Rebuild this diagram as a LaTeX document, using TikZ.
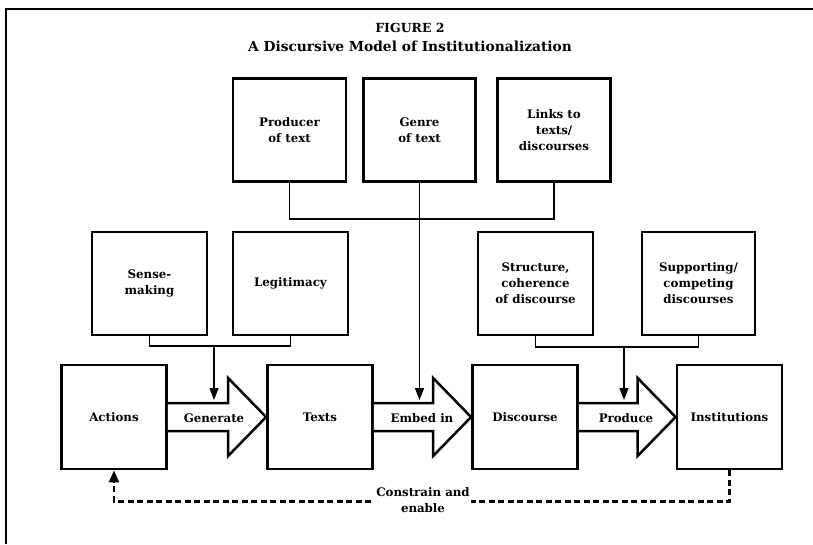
\documentclass[tikz,border=0pt]{standalone}
\usepackage{fontspec}
\setmainfont{DejaVu Serif}
\usetikzlibrary{arrows.meta,calc}
\newcommand\boxlabel{\fontsize{11.8}{16}\selectfont\bfseries}
\begin{document}
\begin{tikzpicture}[x=1pt,y=-1pt,
  box/.style={draw, line width=2.8pt, minimum width=#1, minimum height=103pt,
    inner sep=2pt, align=center, font=\boxlabel},
  box/.default=105pt,
  link/.style={line width=1.4pt},
  drop/.style={line width=1.4pt, -{Triangle[length=12pt,width=9pt]}},
  hollow/.style={draw, fill=white, line width=2.5pt, line join=miter},
  feedback/.style={line width=2.3pt, dash pattern=on 6pt off 3.5pt,
    -{Triangle[length=12pt,width=10pt]}},
  flowlabel/.style={font=\boxlabel, inner sep=1pt}]

\useasboundingbox (0,0) rectangle (813,544);
\fill[white] (0,0) rectangle (813,544);

% partial frame
\draw[line width=1.6pt] (6,544) -- (6,9) -- (813,9);

% heading
\node (fig) at (410,28) {\fontsize{12.5}{15}\selectfont\bfseries FIGURE 2};
\node (title) at (410,46) {\fontsize{13.8}{16}\selectfont\bfseries A Discursive Model of Institutionalization};

% upper row of influences
\node[box=113pt] (prod)  at (289.5,130) {Producer\\of text};
\node[box=112pt] (genre) at (419.5,130) {Genre\\of text};
\node[box=113pt] (links) at (554,130) {Links to\\texts/\\discourses};

% middle row of influences
\node[box=115pt] (sense)  at (149.5,283.5) {Sense-\\making};
\node[box=115pt] (legit)  at (290.5,283.5) {Legitimacy};
\node[box=115pt] (struct) at (535.5,283.5) {Structure,\\coherence\\of discourse};
\node[box=113pt] (supp)   at (698.5,283.5) {Supporting/\\competing\\discourses};

% main chain
\node[box, minimum height=104pt] (act)  at (114,417) {Actions};
\node[box, minimum height=104pt] (txt)  at (320,417) {Texts};
\node[box, minimum height=104pt] (disc) at (525,417) {Discourse};
\node[box, minimum height=104pt] (inst) at (729.5,417) {Institutions};

% hollow block arrows between the chain boxes
\foreach \a/\b in {act/txt, txt/disc, disc/inst}{
  \draw[hollow]
    ($(\a.east)+(0,-14)$) -- ($(\b.west)+(-38,-14)$) -- ($(\b.west)+(-38,-39)$)
    -- (\b.west) -- ($(\b.west)+(-38,39)$) -- ($(\b.west)+(-38,14)$)
    -- ($(\a.east)+(0,14)$);
}
\node[flowlabel] (lgen) at (214,418) {Generate};
\node[flowlabel] (lemb) at (422,418) {Embed in};
\node[flowlabel] (lpro) at (626,418) {Produce};

% brackets and drops onto the block arrows
\coordinate (jtop) at (419.5,219);
\coordinate (jleft) at (214,346);
\coordinate (jright) at (624,347);
\coordinate (tgen) at (214,400);
\coordinate (temb) at (419.5,400);
\coordinate (tpro) at (624,400);

\draw[link] (prod.south) |- (jtop) -| (links.south);
\draw[drop] (genre.south) -- (temb);

\draw[link] (sense.south) |- (jleft) -| (legit.south);
\draw[drop] (jleft) -- (tgen);

\draw[link] (struct.south) |- (jright) -| (supp.south);
\draw[drop] (jright) -- (tpro);

% feedback loop
\coordinate (fbr) at ($(inst.south)+(0,31)$);
\draw[feedback] (inst.south) -- (fbr) -| (act.south);
\node[fill=white, inner sep=1pt, align=center, font=\boxlabel] (fblab) at (423,500)
  {Constrain and\\enable};
\end{tikzpicture}
\end{document}
